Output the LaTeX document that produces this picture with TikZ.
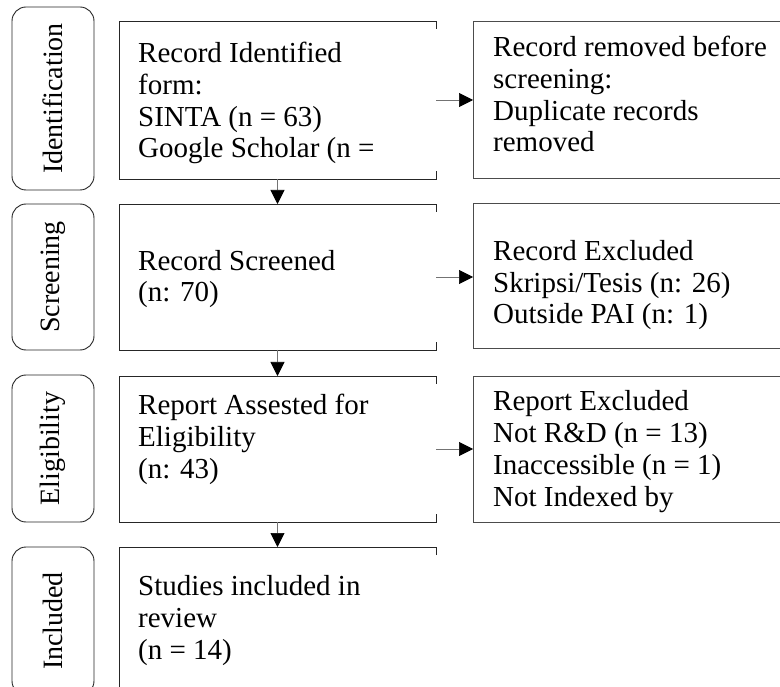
\documentclass[tikz,border=0pt]{standalone}
\usepackage{fontspec}
\setmainfont{Liberation Serif}
\usetikzlibrary{arrows.meta}
\begin{document}
\begin{tikzpicture}[x=1pt,y=-1pt,
  boxn/.style={inner sep=0pt, outer sep=0pt, draw=none},
  edge/.style={draw=black!85, line width=0.9pt},
  redge/.style={draw=black!70, line width=0.9pt},
  lab/.style={draw=black!85, line width=0.9pt, rounded corners=14pt, inner sep=0pt, rotate=90, font=\fontsize{28}{30}\selectfont},
  txt/.style={align=left, inner sep=0pt, anchor=base west, font=\fontsize{29}{31.7}\selectfont},
  conn/.style={draw=black!55, line width=0.7pt, -{Triangle[width=14pt,length=14pt,color=black]}}]
\useasboundingbox (0,0) rectangle (780,687);
\clip (0,0) rectangle (780,687);
\fill[white] (0,0) rectangle (780,687);

% stage labels
\node[lab, minimum width=183pt, minimum height=82pt] (l1) at (53,98.5) {Identification};
\node[lab, minimum width=146pt, minimum height=82pt] (l2) at (53,277) {Screening};
\node[lab, minimum width=147pt, minimum height=82pt] (l3) at (53,448.5) {Eligibility};
\node[lab, minimum width=148pt, minimum height=82pt] (l4) at (53,621) {Included};

% main boxes
\node[boxn, minimum width=317pt, minimum height=158pt] (m1) at (277.5,100) {};
\node[boxn, minimum width=317pt, minimum height=146pt] (m2) at (277.5,277) {};
\node[boxn, minimum width=317pt, minimum height=146pt] (m3) at (277.5,449) {};
\node[boxn, minimum width=317pt, minimum height=158pt] (m4) at (277.5,626) {};

% side boxes
\node[boxn, minimum width=327pt, minimum height=157pt] (r1) at (636.5,99.5) {};
\node[boxn, minimum width=327pt, minimum height=145pt] (r2) at (636.5,275.5) {};
\node[boxn, minimum width=327pt, minimum height=146pt] (r3) at (636.5,449) {};

% borders of main boxes
\foreach \b in {m1,m2,m3}{
  \draw[edge] ([yshift=-8pt]\b.north east) -- (\b.north east) -- (\b.north west)
    -- (\b.south west) -- (\b.south east) -- ([yshift=8pt]\b.south east);
}
\draw[edge] ([yshift=-8pt]m4.north east) -- (m4.north east) -- (m4.north west) -- (m4.south west);

% borders of side boxes
\foreach \b in {r1,r2,r3}{
  \draw[redge] (\b.north east) -- (\b.north west) -- (\b.south west) -- (\b.south east);
}

% texts (anchored at the baseline of the last line)
\node[txt] (t1) at (138,158) {Record Identified\\form:\\SINTA (n = 63)\\Google Scholar (n =};
\node[txt] (u1) at (493,152) {Record removed before\\screening:\\Duplicate records\\removed};
\node[txt] (t2) at (138,302) {Record Screened\\(n: 70)};
\node[txt] (u2) at (493,324) {Record Excluded\\Skripsi/Tesis (n: 26)\\Outside PAI (n: 1)};
\node[txt] (t3) at (138,478) {Report Assested for\\Eligibility\\(n: 43)};
\node[txt] (u3) at (493,506) {Report Excluded\\Not R\&D (n = 13)\\Inaccessible (n = 1)\\Not Indexed by};
\node[txt] (t4) at (138,659) {Studies included in\\review\\(n = 14)};

% connectors
\draw[conn] (m1.south) -- (m2.north);
\draw[conn] (m2.south) -- (m3.north);
\draw[conn] (m3.south) -- (m4.north);
\draw[conn] (m1.east) -- (r1.west |- m1.east);
\draw[conn] (m2.east) -- (r2.west |- m2.east);
\draw[conn] (m3.east) -- (r3.west |- m3.east);
\end{tikzpicture}
\end{document}
